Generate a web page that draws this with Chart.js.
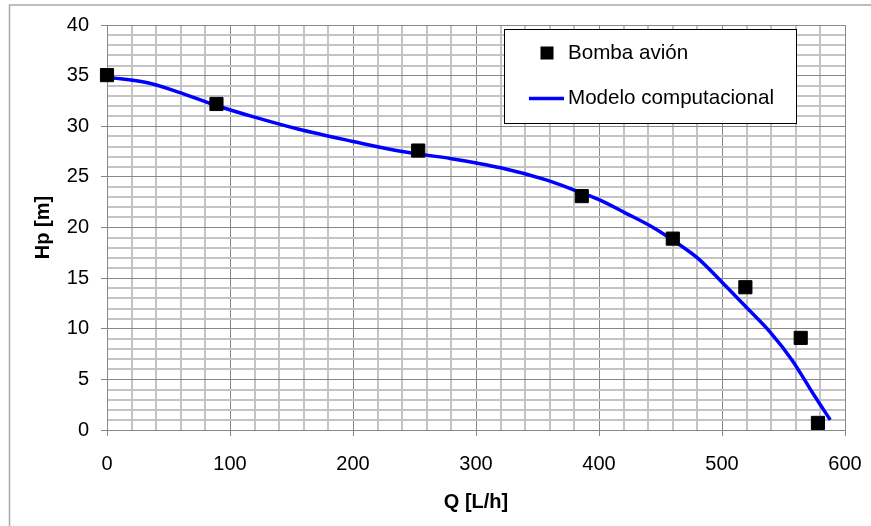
<!DOCTYPE html>
<html>
<head>
<meta charset="utf-8">
<script src="https://cdn.jsdelivr.net/npm/chart.js@4"></script>
<style>
  html, body { margin: 0; padding: 0; background: #fff; }
  #wrap { width: 871px; height: 526px; }
</style>
</head>
<body>
<div id="wrap"><canvas id="chart" width="871" height="526"></canvas></div>
<script>
// measured pump points
const pumpQ = [0, 89, 253, 386, 460, 519, 564, 578];
const pumpHp = [35.05, 32.2, 27.6, 23.1, 18.9, 14.1, 9.1, 0.7];

// computational model curve
const modelQ = [0, 33, 60, 90, 120, 156, 200, 240, 280, 320, 357, 380, 400, 422, 444, 460, 480, 500, 520, 540, 557, 574, 588];
const modelHp = [34.85, 34.3, 33.3, 32.0, 30.9, 29.7, 28.5, 27.5, 26.8, 25.9, 24.7, 23.7, 22.75, 21.4, 20.0, 18.75, 17.0, 14.6, 12.1, 9.55, 6.9, 3.6, 1.0];

const seriesNames = ['Bomba avión', 'Modelo computacional'];
const xTitle = 'Q [L/h]';
const yTitle = 'Hp [m]';

const FONT = 'Liberation Sans, Arial, sans-serif';
const MAJOR = '#888888';
const MINOR = '#c4c4c4';

function toPoints(xs, ys) {
  return xs.map((x, i) => ({ x: x, y: ys[i] }));
}

// frame around the whole chart (only top and left edges are visible)
const framePlugin = {
  id: 'frame',
  beforeDraw(chart) {
    const ctx = chart.ctx;
    ctx.save();
    ctx.strokeStyle = '#a8a8a8';
    ctx.lineWidth = 1.5;
    ctx.beginPath();
    ctx.moveTo(9.5, 526);
    ctx.lineTo(9.5, 5);
    ctx.lineTo(871, 5);
    ctx.stroke();
    ctx.restore();
  }
};

// boxed legend drawn inside the plot, like the spreadsheet original
const boxLegend = {
  id: 'boxLegend',
  afterDatasetsDraw(chart) {
    const ctx = chart.ctx;
    const ds = chart.data.datasets;
    ctx.save();
    ctx.fillStyle = '#fff';
    ctx.fillRect(504.5, 29.5, 292, 94);
    ctx.strokeStyle = '#000';
    ctx.lineWidth = 1;
    ctx.strokeRect(504.5, 29.5, 292, 94);

    ctx.fillStyle = '#000';
    ctx.fillRect(540.5, 46.5, 13, 13);

    ctx.strokeStyle = ds[1].borderColor;
    ctx.lineWidth = 3.5;
    ctx.beginPath();
    ctx.moveTo(529, 98.5);
    ctx.lineTo(564, 98.5);
    ctx.stroke();

    ctx.fillStyle = '#000';
    ctx.font = '20.6px ' + FONT;
    ctx.textBaseline = 'middle';
    ctx.textAlign = 'left';
    ctx.fillText(ds[0].label, 568, 53);
    ctx.fillText(ds[1].label, 568, 98.5);
    ctx.restore();
  }
};

const ctx = document.getElementById('chart');
new Chart(ctx, {
  type: 'scatter',
  data: {
    datasets: [
      {
        label: seriesNames[0],
        data: toPoints(pumpQ, pumpHp),
        pointStyle: 'rect',
        radius: 9.3,
        backgroundColor: '#000',
        borderColor: '#000',
        borderWidth: 1,
        clip: false,
        order: 0
      },
      {
        label: seriesNames[1],
        data: toPoints(modelQ, modelHp),
        showLine: true,
        borderColor: '#0000ff',
        borderWidth: 3.5,
        pointRadius: 0,
        cubicInterpolationMode: 'monotone',
        fill: false,
        order: 1
      }
    ]
  },
  plugins: [framePlugin, boxLegend],
  options: {
    responsive: false,
    animation: false,
    layout: { padding: { left: 0, right: 26, top: 25, bottom: 0 } },
    plugins: {
      legend: { display: false },
      tooltip: { enabled: false }
    },
    scales: {
      x: {
        type: 'linear',
        min: 0,
        max: 600,
        afterFit(scale) {
          scale.height = 96;
          // keep the big tick padding from eating into the right margin
          scale.paddingLeft = 0;
          scale.paddingRight = 0;
        },
        ticks: {
          stepSize: 20,
          autoSkip: false,
          maxRotation: 0,
          padding: 16,
          color: '#000',
          font: { family: FONT, size: 20 },
          callback: (v) => (v % 100 === 0 ? String(v) : '')
        },
        grid: {
          color: (c) => (c.tick && c.tick.value % 100 === 0 ? MAJOR : MINOR),
          lineWidth: (c) => (c.tick && c.tick.value % 100 === 0 ? 1 : 2),
          tickColor: (c) => (c.tick && c.tick.value % 100 === 0 ? MAJOR : 'rgba(0,0,0,0)'),
          tickLength: 6
        },
        border: { color: MAJOR, width: 1 },
        title: {
          display: true,
          text: xTitle,
          color: '#000',
          font: { family: FONT, size: 20, weight: 'bold' },
          padding: { top: 0, bottom: 12 }
        }
      },
      y: {
        type: 'linear',
        min: 0,
        max: 40,
        afterFit(scale) { scale.width = 107; },
        ticks: {
          stepSize: 1,
          autoSkip: false,
          padding: 12,
          color: '#000',
          font: { family: FONT, size: 20 },
          callback: (v) => (v % 5 === 0 ? String(v) : '')
        },
        grid: {
          color: (c) => (c.tick && c.tick.value % 5 === 0 ? MAJOR : MINOR),
          lineWidth: (c) => (c.tick && c.tick.value % 5 === 0 ? 1 : 2),
          tickColor: (c) => (c.tick && c.tick.value % 5 === 0 ? MAJOR : 'rgba(0,0,0,0)'),
          tickLength: 6
        },
        border: { color: MAJOR, width: 1 },
        title: {
          display: true,
          text: yTitle,
          color: '#000',
          font: { family: FONT, size: 20, weight: 'bold' },
          padding: { top: 31, bottom: 0 }
        }
      }
    }
  }
});
</script>
</body>
</html>
